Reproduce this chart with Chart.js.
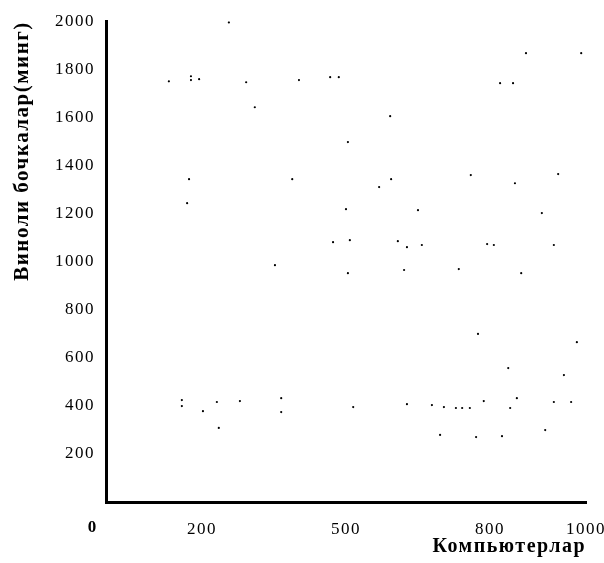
<!DOCTYPE html>
<html>
<head>
<meta charset="utf-8">
<script src="https://cdn.jsdelivr.net/npm/chart.js@4/dist/chart.umd.min.js"></script>
<style>
    html, body { margin: 0; padding: 0; background: #fff; }
    #wrap { width: 604px; height: 563px; }
</style>
</head>
<body>
<div id="wrap"><canvas id="chart" width="604" height="563"></canvas></div>
<script>
// Компьютерлар (x) ва виноли бочкалар, минг (y)
const computers = [256, 131, 177, 177, 194, 292, 402, 310, 173, 388, 169, 352,
    875, 990, 467, 485, 821, 848, 592, 504, 594, 569, 760, 942, 852, 500, 650, 908,
    473, 508, 608, 627, 658, 794, 808, 933, 504, 621, 735, 865,
    158, 158, 202, 231, 279, 365, 365, 235, 775, 981, 838, 954,
    515, 627, 679, 704, 729, 742, 758, 787, 842, 856, 933, 969, 696, 771, 825, 915];
const barrels = [1995, 1750, 1771, 1755, 1759, 1746, 1755, 1642, 1343, 1343, 1243, 985,
    1867, 1867, 1767, 1767, 1742, 1742, 1605, 1497, 1343, 1310, 1360, 1364, 1326, 1218, 1214, 1202,
    1081, 1089, 1085, 1060, 1069, 1073, 1069, 1069, 952, 965, 969, 952,
    424, 399, 378, 416, 420, 432, 374, 308, 699, 665, 557, 528,
    395, 407, 403, 395, 391, 391, 391, 420, 391, 432, 416, 416, 279, 270, 274, 299];

const xTicks = [0, 200, 500, 800, 1000];
const yTicks = [0, 200, 400, 600, 800, 1000, 1200, 1400, 1600, 1800, 2000];

const xTitle = 'Компьютерлар';
const yTitle = 'Виноли бочкалар(минг)';

const serif = '"Liberation Serif", "DejaVu Serif", serif';

// в скане текст растянут по ширине, поэтому немного разрядки
const spacing = {
    id: 'spacing',
    beforeUpdate(chart) { chart.ctx.letterSpacing = '1.5px'; },
    beforeDraw(chart) { chart.ctx.letterSpacing = '1.5px'; }
};

// "0" в начале оси X стоит левее угла осей
const originLabel = {
    id: 'originLabel',
    afterDraw(chart) {
        const ctx = chart.ctx;
        const x = chart.scales.x.getPixelForValue(0) - 14;
        const y = chart.scales.x.top + 26;
        ctx.save();
        ctx.letterSpacing = '0px';
        ctx.font = 'bold 17px ' + serif;
        ctx.fillStyle = '#000';
        ctx.textAlign = 'center';
        ctx.textBaseline = 'middle';
        ctx.fillText('0', x, y);
        ctx.restore();
    }
};

const points = computers.map((c, i) => ({ x: c, y: barrels[i] }));

new Chart(document.getElementById('chart').getContext('2d'), {
    type: 'scatter',
    data: {
        datasets: [{
            data: points,
            backgroundColor: '#000',
            borderColor: '#000',
            pointRadius: 1.1,
            borderWidth: 0
        }]
    },
    options: {
        responsive: false,
        animation: false,
        layout: { padding: { left: 6, right: 0, top: 21, bottom: 0 } },
        plugins: {
            legend: { display: false },
            tooltip: { enabled: false }
        },
        scales: {
            x: {
                type: 'linear',
                min: 0,
                max: 1000,
                afterBuildTicks: scale => { scale.ticks = xTicks.map(v => ({ value: v })); },
                afterFit: scale => {
                    scale.height = 61;
                    scale.paddingRight = 18;
                },
                grid: { display: false, drawTicks: false },
                border: { display: true, color: '#000', width: 3 },
                ticks: {
                    color: '#000',
                    padding: 17,
                    maxRotation: 0,
                    autoSkip: false,
                    font: { family: serif, size: 17 },
                    callback: v => (v === 0 ? '' : v)
                },
                title: {
                    display: true,
                    text: xTitle,
                    align: 'end',
                    color: '#000',
                    padding: { top: 0, bottom: 4 },
                    font: { family: serif, size: 20, weight: 'bold' }
                }
            },
            y: {
                type: 'linear',
                min: 0,
                max: 2000,
                afterBuildTicks: scale => { scale.ticks = yTicks.map(v => ({ value: v })); },
                afterFit: scale => { scale.width = 100; },
                grid: { display: false, drawTicks: false },
                border: { display: true, color: '#000', width: 3 },
                ticks: {
                    color: '#000',
                    padding: 11,
                    autoSkip: false,
                    font: { family: serif, size: 17 },
                    callback: v => (v === 0 ? '' : v)
                },
                title: {
                    display: true,
                    text: yTitle,
                    align: 'end',
                    color: '#000',
                    padding: { top: 4, bottom: 0 },
                    font: { family: serif, size: 21, weight: 'bold' }
                }
            }
        }
    },
    plugins: [spacing, originLabel]
});
</script>
</body>
</html>
